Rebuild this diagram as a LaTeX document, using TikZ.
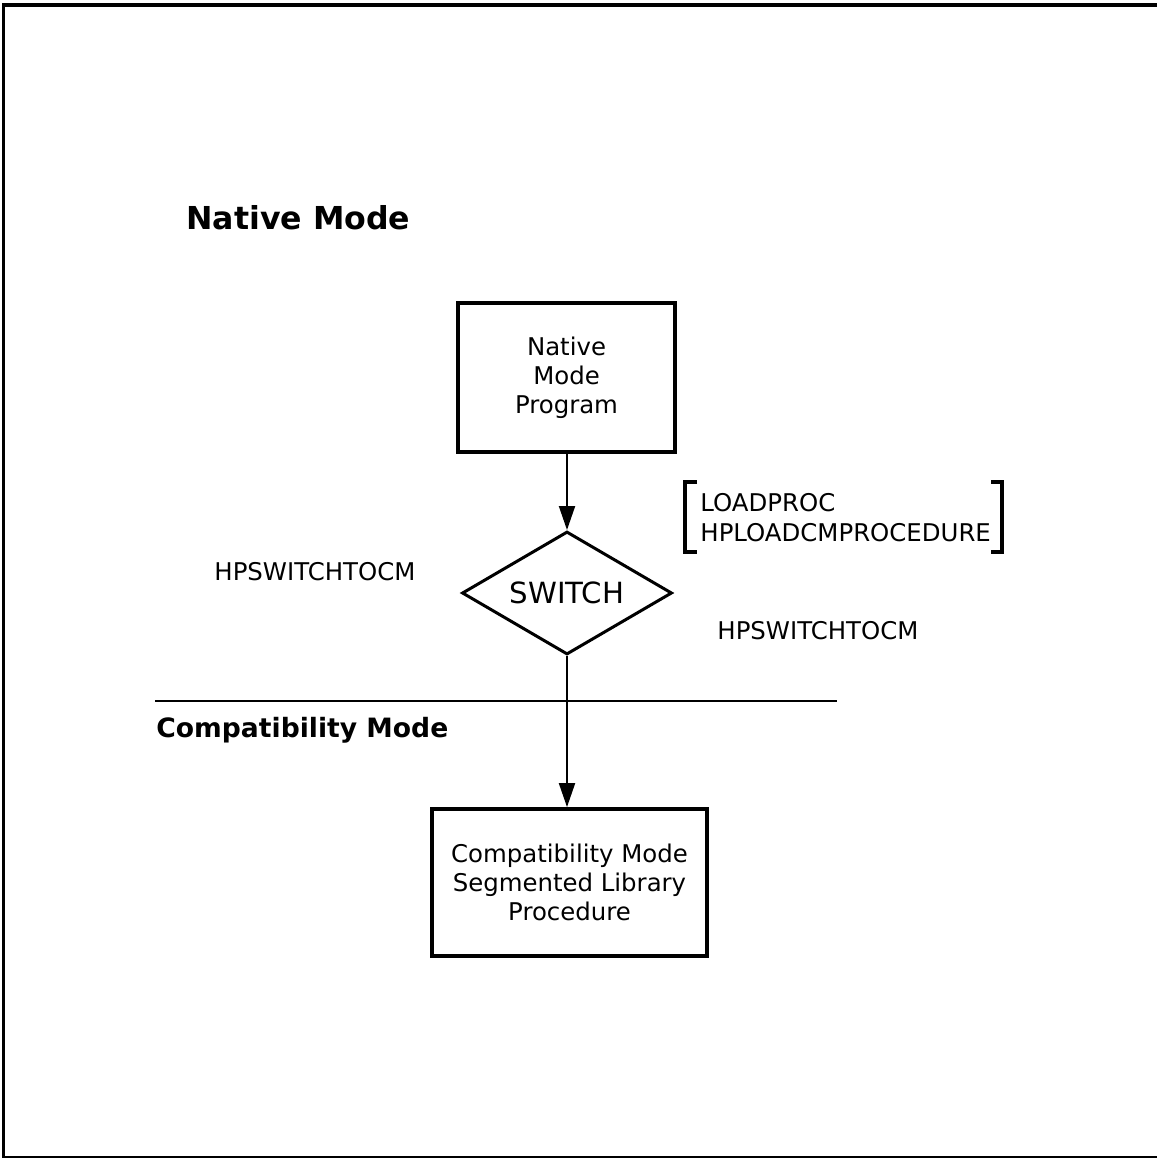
\documentclass[tikz,border=0pt]{standalone}
\usepackage{fontspec}
\setmainfont{DejaVu Sans}
\usetikzlibrary{shapes.geometric,arrows.meta}
\begin{document}
\begin{tikzpicture}[x=0.5pt,y=-0.5pt,
  body/.style={font=\fontsize{12.2}{14.5}\selectfont},
  heading/.style={font=\bfseries\fontsize{15.8}{19}\selectfont, anchor=base west, inner sep=0},
  subheading/.style={font=\bfseries\fontsize{13.3}{16}\selectfont, anchor=base west, inner sep=0},
  procbox/.style={draw, line width=1.9pt, align=center, body, inner sep=0},
  decision/.style={draw, diamond, shape aspect=1.7, line width=1.5pt,
    minimum width=105pt, minimum height=61.5pt, inner sep=0,
    font=\fontsize{14.6}{17}\selectfont},
  flow/.style={line width=1pt, -{Triangle[width=8pt,length=12pt]}},
  call/.style={body, anchor=base west, inner sep=0},
  brk/.style={line width=2pt},
]
\useasboundingbox (0,0) rectangle (1157,1159);

% page frame
\draw[line width=2.4pt] (2,5) -- (1157,5);
\draw[line width=1.3pt] (3.5,5) -- (3.5,1157);
\draw[line width=1.1pt] (2,1157) -- (1157,1157);

% mode headings and the boundary between them
\node[heading] (nmhead) at (186,230) {Native Mode};
\node[subheading] (cmhead) at (156,737) {Compatibility Mode};
\coordinate (sepL) at (155,701);
\coordinate (sepR) at (837,701);
\draw[line width=1.2pt] (sepL) -- (sepR);

% flow
\node[procbox, minimum width=108.5pt, minimum height=74.5pt] (nmprog) at (566.5,377.5)
  {Native\\Mode\\Program};
\node[decision] (sw) at (567,593) {SWITCH};
\node[procbox, minimum width=137.5pt, minimum height=73.5pt] (cmproc) at (569.5,882.5)
  {Compatibility Mode\\Segmented Library\\Procedure};

\draw[flow] (sw.north |- nmprog.south) -- (sw.north);
\draw[flow] (sw.south) -- (sw.south |- cmproc.north);

% intrinsic calls
\node[call] (swl) at (214,580) {HPSWITCHTOCM};
\node[call] (swr) at (717,639) {HPSWITCHTOCM};
\node[call] (ldp) at (700,511) {LOADPROC};
\node[call] (hpl) at (700,541) {HPLOADCMPROCEDURE};

% brackets round the load calls
\draw[brk] (697,482) -- (685,482) -- (685,552) -- (697,552);
\draw[brk] (991,482) -- (1002,482) -- (1002,552) -- (991,552);
\end{tikzpicture}
\end{document}
